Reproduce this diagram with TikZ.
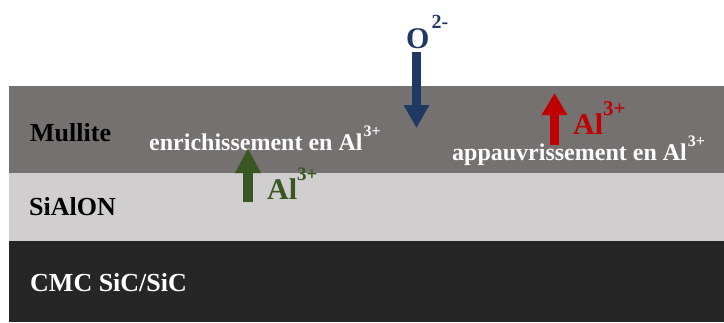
\documentclass[tikz,border=0pt]{standalone}
\usepackage{fontspec}
\setmainfont{Liberation Serif}
\usetikzlibrary{arrows.meta}
\definecolor{mullitec}{HTML}{767171}
\definecolor{sialonc}{HTML}{D0CECE}
\definecolor{cmcc}{HTML}{262626}
\definecolor{bluec}{HTML}{203864}
\definecolor{greenc}{HTML}{385723}
\definecolor{redc}{HTML}{C00000}
\newcommand{\fsz}[1]{\fontsize{#1}{#1}\selectfont}
\begin{document}
\begin{tikzpicture}[x=1pt,y=-1pt,
  lbl/.style={inner sep=0pt, anchor=base west, font=\bfseries},
]
\useasboundingbox (0,0) rectangle (724,322);
% layers
\fill[mullitec] (9,86) rectangle (724,173);
\fill[sialonc] (9,173) rectangle (724,241);
\fill[cmcc] (9,241) rectangle (724,322);
% layer labels
\node[lbl, text=black] (mul) at (30,141) {\fsz{26}Mullite};
\node[lbl, text=black] (sia) at (29,215) {\fsz{26}SiAlON};
\node[lbl, text=white] (cmc) at (30,291) {\fsz{26}CMC SiC/SiC};
% white annotations
\node[lbl, text=white] (enr) at (149,150) {\fsz{24}enrichissement en Al\hspace{1pt}\raisebox{14pt}{\fsz{16}3+}};
\node[lbl, text=white] (app) at (452,160) {\fsz{24}appauvrissement en Al\hspace{1pt}\raisebox{14pt}{\fsz{16}3+}};
% O2- arrow
\node[lbl, text=bluec] (oion) at (406,48) {\fsz{30}O\hspace{2pt}\raisebox{20pt}{\fsz{20}2-}};
\coordinate (oS) at (416.5,52);
\coordinate (oE) at (416.5,128);
\draw[bluec, line width=9pt, -{Triangle[width=24pt,length=23pt]}] (oS) -- (oE);
% green Al3+ arrow
\coordinate (gS) at (248,202);
\coordinate (gE) at (248,148);
\draw[greenc, line width=10pt, -{Triangle[width=24pt,length=25pt]}] (gS) -- (gE);
\node[lbl, text=greenc] (gal) at (267,199) {\fsz{30}Al\raisebox{19pt}{\fsz{19}3+}};
% red Al3+ arrow
\coordinate (rS) at (554.5,145);
\coordinate (rE) at (554.5,93);
\draw[redc, line width=9pt, -{Triangle[width=24pt,length=22pt]}] (rS) -- (rE);
\node[lbl, text=redc] (ral) at (573,134) {\fsz{30}Al\raisebox{19pt}{\fsz{21}3+}};
\end{tikzpicture}
\end{document}
